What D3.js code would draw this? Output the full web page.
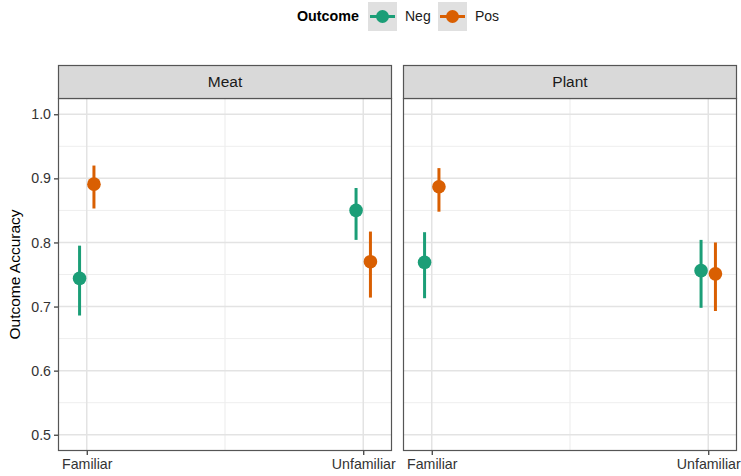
<!DOCTYPE html>
<html>
<head>
<meta charset="utf-8">
<script src="https://cdn.jsdelivr.net/npm/d3@7/dist/d3.min.js"></script>
<style>
  body { margin: 0; background: #fff; }
  svg { display: block; font-family: "Liberation Sans", Arial, sans-serif; }
</style>
</head>
<body>
<svg id="chart" width="741" height="476"></svg>
<script>
// Facets, x categories and outcome groups
const panels = ["Meat", "Plant"];
const familiarity = ["Familiar", "Unfamiliar"];
const outcomes = ["Neg", "Pos"];
const outcomeColors = ["#1b9e77", "#d95f02"];
const yTicks = [0.5, 0.6, 0.7, 0.8, 0.9, 1.0];

// Estimated accuracy (point) with lower / upper interval, ordered
// [Familiar, Unfamiliar] for each panel and outcome
const meatNegMean  = [0.744, 0.850];
const meatNegLow   = [0.686, 0.804];
const meatNegHigh  = [0.795, 0.885];
const meatPosMean  = [0.891, 0.770];
const meatPosLow   = [0.853, 0.714];
const meatPosHigh  = [0.920, 0.817];
const plantNegMean = [0.769, 0.756];
const plantNegLow  = [0.713, 0.698];
const plantNegHigh = [0.816, 0.804];
const plantPosMean = [0.887, 0.751];
const plantPosLow  = [0.848, 0.693];
const plantPosHigh = [0.916, 0.800];

const series = {
  Meat:  { Neg: [meatNegMean, meatNegLow, meatNegHigh],  Pos: [meatPosMean, meatPosLow, meatPosHigh] },
  Plant: { Neg: [plantNegMean, plantNegLow, plantNegHigh], Pos: [plantPosMean, plantPosLow, plantPosHigh] }
};

const rows = [];
panels.forEach(p => outcomes.forEach(o => familiarity.forEach((f, i) => {
  const [m, lo, hi] = series[p][o];
  rows.push({ panel: p, outcome: o, cat: f, idx: i, mean: m[i], lo: lo[i], hi: hi[i] });
})));

const svg = d3.select("#chart");
const color = d3.scaleOrdinal(outcomes, outcomeColors);

const panelLeft = [58, 403];
const panelW = 334;
const stripTop = 65, stripH = 33;
const plotTop = stripTop + stripH, plotBottom = 451;

const y = d3.scaleLinear().domain([0.4746, 1.0254]).range([plotBottom, plotTop]);
const dodge = 0.026;

// Legend
const legend = svg.append("g");
legend.append("text").attr("x", 297).attr("y", 21)
  .attr("font-size", 14.3).attr("font-weight", "bold").attr("fill", "#000").text("Outcome");
outcomes.forEach((o, i) => {
  const x0 = [368, 438][i];
  const g = legend.append("g").attr("transform", `translate(${x0},2)`);
  g.append("rect").attr("width", 29).attr("height", 29).attr("fill", "#e0e0e0");
  g.append("line").attr("x1", 2).attr("x2", 27).attr("y1", 14.5).attr("y2", 14.5)
    .attr("stroke", color(o)).attr("stroke-width", 3);
  g.append("circle").attr("cx", 14.5).attr("cy", 14.5).attr("r", 6.5).attr("fill", color(o));
  legend.append("text").attr("x", x0 + 37).attr("y", 21)
    .attr("font-size", 14).attr("fill", "#1a1a1a").text(o);
});

panels.forEach((p, pi) => {
  const left = panelLeft[pi];
  const x = d3.scaleLinear().domain([0.896, 2.104]).range([left, left + panelW]);
  const g = svg.append("g");

  // Grid: minor then major
  const minorY = [0.55, 0.65, 0.75, 0.85, 0.95];
  g.selectAll(".ymin").data(minorY).join("line")
    .attr("x1", left).attr("x2", left + panelW)
    .attr("y1", d => y(d)).attr("y2", d => y(d))
    .attr("stroke", "#eeeeee").attr("stroke-width", 1);
  g.append("line").attr("x1", x(1.5)).attr("x2", x(1.5))
    .attr("y1", plotTop).attr("y2", plotBottom)
    .attr("stroke", "#eeeeee").attr("stroke-width", 1.2);
  g.selectAll(".ymaj").data(yTicks).join("line")
    .attr("x1", left).attr("x2", left + panelW)
    .attr("y1", d => y(d)).attr("y2", d => y(d))
    .attr("stroke", "#e3e3e3").attr("stroke-width", 1.5);
  g.selectAll(".xmaj").data([1, 2]).join("line")
    .attr("x1", d => x(d)).attr("x2", d => x(d))
    .attr("y1", plotTop).attr("y2", plotBottom)
    .attr("stroke", "#e3e3e3").attr("stroke-width", 1.5);

  // Error bars and points
  const data = rows.filter(r => r.panel === p);
  const px = r => x(r.idx + 1 + (r.outcome === "Neg" ? -dodge : dodge));
  g.selectAll(".err").data(data).join("line")
    .attr("x1", px).attr("x2", px)
    .attr("y1", r => y(r.lo)).attr("y2", r => y(r.hi))
    .attr("stroke", r => color(r.outcome)).attr("stroke-width", 3);
  g.selectAll(".pt").data(data).join("circle")
    .attr("cx", px).attr("cy", r => y(r.mean)).attr("r", 6.8)
    .attr("fill", r => color(r.outcome));

  // Panel border
  g.append("rect").attr("x", left + 0.5).attr("y", plotTop + 0.5)
    .attr("width", panelW - 1).attr("height", plotBottom - plotTop - 1)
    .attr("fill", "none").attr("stroke", "#555").attr("stroke-width", 1.2);

  // Strip
  g.append("rect").attr("x", left + 0.5).attr("y", stripTop + 0.5)
    .attr("width", panelW - 1).attr("height", stripH)
    .attr("fill", "#d9d9d9").attr("stroke", "#555").attr("stroke-width", 1.2);
  g.append("text").attr("x", left + panelW / 2).attr("y", stripTop + stripH / 2 + 5.5)
    .attr("text-anchor", "middle").attr("font-size", 15.5).attr("fill", "#1a1a1a").text(p);

  // X axis
  const xAxis = d3.axisBottom(x).tickValues([1, 2])
    .tickFormat(d => familiarity[d - 1]).tickSize(4).tickPadding(4);
  const xg = g.append("g").attr("transform", `translate(0,${plotBottom})`).call(xAxis);
  xg.select(".domain").remove();
  xg.selectAll(".tick line").attr("stroke", "#333").attr("stroke-width", 1.2);
  xg.selectAll(".tick text").attr("font-size", 14.2).attr("fill", "#333")
    .attr("font-family", "Liberation Sans, Arial, sans-serif");

  // Y axis on first panel only
  if (pi === 0) {
    const yAxis = d3.axisLeft(y).tickValues(yTicks).tickFormat(d3.format(".1f"))
      .tickSize(4).tickPadding(3);
    const yg = g.append("g").attr("transform", `translate(${left},0)`).call(yAxis);
    yg.select(".domain").remove();
    yg.selectAll(".tick line").attr("stroke", "#333").attr("stroke-width", 1.2);
    yg.selectAll(".tick text").attr("font-size", 14.2).attr("fill", "#333")
      .attr("font-family", "Liberation Sans, Arial, sans-serif");
  }
});

svg.append("text")
  .attr("transform", `translate(20,${(plotTop + plotBottom) / 2}) rotate(-90)`)
  .attr("text-anchor", "middle").attr("font-size", 15.5).attr("fill", "#000")
  .text("Outcome Accuracy");
</script>
</body>
</html>
